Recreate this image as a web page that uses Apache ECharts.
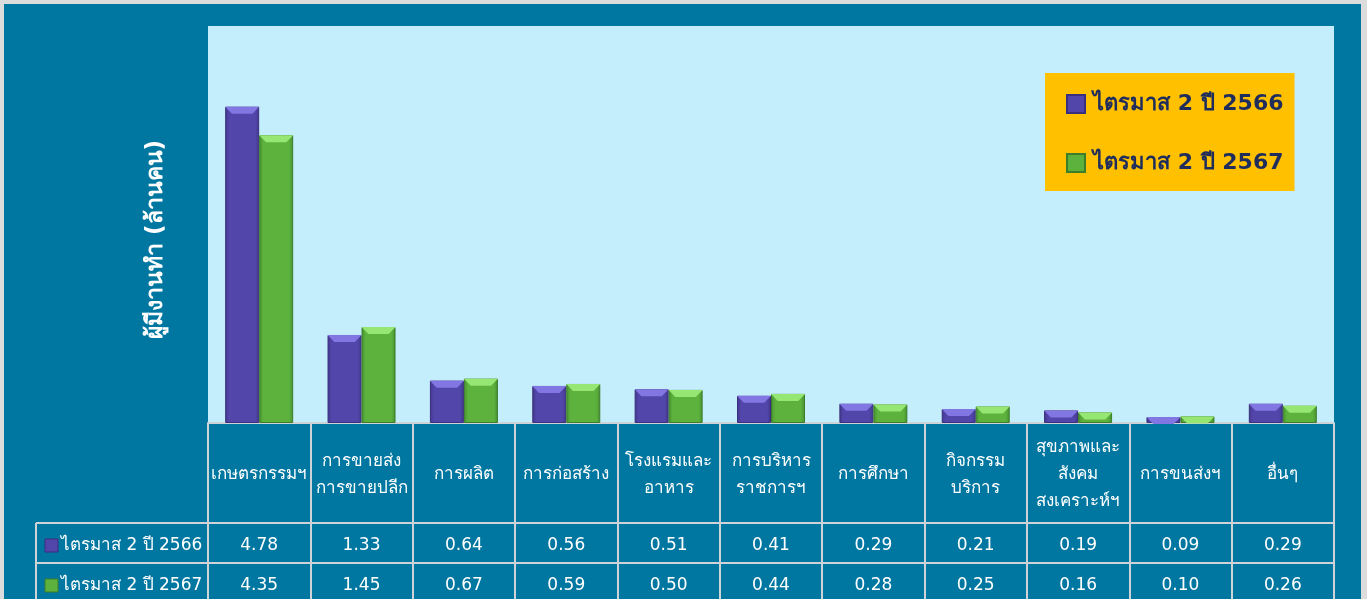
<!DOCTYPE html>
<html>
<head>
<meta charset="utf-8">
<script src="https://cdn.jsdelivr.net/npm/echarts@6/dist/echarts.min.js"></script>
<style>
  html, body { margin: 0; padding: 0; background: #dcdcdc; }
  #chart { position: absolute; left: 4px; top: 4px; width: 1357px; height: 595px; }
</style>
</head>
<body>
<div id="chart"></div>
<script>
const categories = ['เกษตรกรรมฯ', 'การขายส่ง\nการขายปลีก', 'การผลิต', 'การก่อสร้าง', 'โรงแรมและ\nอาหาร',
  'การบริหาร\nราชการฯ', 'การศึกษา', 'กิจกรรม\nบริการ', 'สุขภาพและ\nสังคม\nสงเคราะห์ฯ', 'การขนส่งฯ', 'อื่นๆ']
const seriesNames = ['ไตรมาส 2 ปี 2566', 'ไตรมาส 2 ปี 2567']
const q2_2566 = [4.78, 1.33, 0.64, 0.56, 0.51, 0.41, 0.29, 0.21, 0.19, 0.09, 0.29]
const q2_2567 = [4.35, 1.45, 0.67, 0.59, 0.50, 0.44, 0.28, 0.25, 0.16, 0.10, 0.26]

const font = 'Tahoma, "DejaVu Sans", "Noto Sans", sans-serif'
const lineColor = '#cdd3d6'
const purple = '#5346aa'
const green = '#5db23e'

function barColor (edge, mid) {
  return new echarts.graphic.LinearGradient(0, 0, 1, 0, [
    { offset: 0, color: edge },
    { offset: 0.12, color: mid },
    { offset: 0.88, color: mid },
    { offset: 1, color: edge }
  ])
}

const chart = echarts.init(document.getElementById('chart'))

const tableAxis = (offset, values) => ({
  type: 'category',
  data: categories,
  position: 'bottom',
  offset: offset,
  axisLine: { show: true, lineStyle: { color: lineColor, width: 2 } },
  axisTick: { show: false },
  axisLabel: {
    interval: 0,
    margin: 23,
    verticalAlign: 'middle',
    color: '#fff',
    fontSize: 17,
    fontFamily: font,
    formatter: (v, i) => values[i].toFixed(2)
  }
})

const capSymbol = 'path://M0,0 L10,0 L8,3 L2,3 Z'

const option = {
  backgroundColor: '#0077a0',
  animation: false,
  grid: { left: 204, right: 27, top: 22, bottom: 176 },
  legend: {
    data: seriesNames,
    orient: 'vertical',
    left: 1041,
    top: 69,
    backgroundColor: '#ffc000',
    padding: [16, 11, 13, 21],
    itemGap: 29,
    itemWidth: 18,
    itemHeight: 18,
    icon: 'rect',
    textStyle: { color: '#1f2d5c', fontSize: 22, fontWeight: 'bold', fontFamily: font, lineHeight: 30, padding: [0, 0, 0, 3] }
  },
  xAxis: [
    {
      type: 'category',
      data: categories,
      position: 'bottom',
      axisLine: { show: true, lineStyle: { color: lineColor, width: 2 } },
      axisTick: { show: true, interval: 0, length: 176, lineStyle: { color: lineColor, width: 2 } },
      axisLabel: {
        interval: 0,
        margin: 52,
        verticalAlign: 'middle',
        color: '#fff',
        fontSize: 17,
        lineHeight: 27,
        fontFamily: font
      }
    },
    tableAxis(100, q2_2566),
    tableAxis(140, q2_2567)
  ],
  yAxis: {
    type: 'value',
    min: 0,
    max: 6,
    axisLabel: { show: false },
    axisLine: { show: false },
    axisTick: { show: false },
    splitLine: { show: false },
    name: 'ผู้มีงานทำ (ล้านคน)',
    nameLocation: 'middle',
    nameRotate: 90,
    nameGap: 40,
    nameTextStyle: { color: '#fff', fontSize: 23, fontWeight: 'bold', fontFamily: font, padding: [0, 30, 0, 0] }
  },
  series: [
    {
      name: seriesNames[0],
      type: 'bar',
      data: q2_2566,
      barWidth: 34,
      barGap: '0%',
      itemStyle: { color: barColor('#42378c', purple), borderColor: '#3a2f7e', borderWidth: 1 }
    },
    {
      name: seriesNames[1],
      type: 'bar',
      data: q2_2567,
      barWidth: 34,
      barGap: '0%',
      itemStyle: { color: barColor('#469030', green), borderColor: '#3d7d2a', borderWidth: 1 }
    },
    {
      name: 'cap1',
      type: 'pictorialBar',
      data: q2_2566,
      barWidth: 34,
      barGap: '0%',
      symbol: capSymbol,
      symbolSize: [34, 7],
      symbolPosition: 'end',
      z: 5,
      itemStyle: { color: '#8276e2' }
    },
    {
      name: 'cap2',
      type: 'pictorialBar',
      data: q2_2567,
      barWidth: 34,
      barGap: '0%',
      symbol: capSymbol,
      symbolSize: [34, 7],
      symbolPosition: 'end',
      z: 5,
      itemStyle: { color: '#95e672' }
    }
  ],
  graphic: [
    {
      type: 'rect', z: -10, silent: true,
      shape: { x: 204, y: 22, width: 1357 - 204 - 27, height: 595 - 176 - 22 },
      style: { fill: '#c5eefc' }
    },
    { type: 'line', shape: { x1: 32, y1: 519, x2: 204, y2: 519 }, style: { stroke: lineColor, lineWidth: 2 } },
    { type: 'line', shape: { x1: 32, y1: 559, x2: 204, y2: 559 }, style: { stroke: lineColor, lineWidth: 2 } },
    { type: 'line', shape: { x1: 32, y1: 519, x2: 32, y2: 600 }, style: { stroke: lineColor, lineWidth: 2 } },
    { type: 'rect', shape: { x: 41, y: 535, width: 13, height: 13 }, style: { fill: purple, stroke: '#3a2f7e' } },
    { type: 'text', x: 57, y: 542, style: { text: seriesNames[0], fill: '#fff', fontSize: 17, fontFamily: font, verticalAlign: 'middle' } },
    { type: 'rect', shape: { x: 41, y: 575, width: 13, height: 13 }, style: { fill: green, stroke: '#3d7d2a' } },
    { type: 'text', x: 57, y: 582, style: { text: seriesNames[1], fill: '#fff', fontSize: 17, fontFamily: font, verticalAlign: 'middle' } }
  ]
}

chart.setOption(option)
</script>
</body>
</html>
